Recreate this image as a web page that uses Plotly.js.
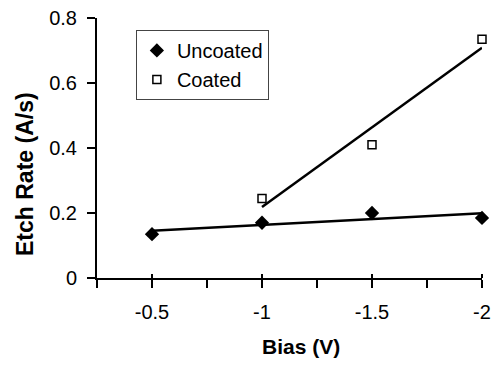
<!DOCTYPE html>
<html>
<head>
<meta charset="utf-8">
<script src="https://cdn.plot.ly/plotly-3.0.1.min.js"></script>
<style>html,body{margin:0;padding:0;background:#fff;}#chart{width:494px;height:366px;}</style>
</head>
<body>
<div id="chart"></div>
<script>
const biasUncoated = [-0.5, -1, -1.5, -2];
const rateUncoated = [0.135, 0.17, 0.2, 0.185];
const biasCoated = [-1, -1.5, -2];
const rateCoated = [0.245, 0.41, 0.735];
const xTickVals = [-0.25, -0.5, -0.75, -1, -1.25, -1.5, -1.75, -2];
const xTickText = ['', '-0.5', '', '-1', '', '-1.5', '', '-2'];
const yTickVals = [0, 0.2, 0.4, 0.6, 0.8];
const yTickText = ['0', '0.2', '0.4', '0.6', '0.8'];

function fit(xs, ys) {
  const n = xs.length;
  const mx = xs.reduce((a, b) => a + b, 0) / n;
  const my = ys.reduce((a, b) => a + b, 0) / n;
  let sxy = 0, sxx = 0;
  for (let i = 0; i < n; i++) { sxy += (xs[i] - mx) * (ys[i] - my); sxx += (xs[i] - mx) ** 2; }
  const m = sxy / sxx, b = my - m * mx;
  const x0 = xs[0], x1 = xs[n - 1];
  return { x: [x0, x1], y: [m * x0 + b, m * x1 + b] };
}
const fu = fit(biasUncoated, rateUncoated);
const fc = fit(biasCoated, rateCoated);

const font = { family: 'Liberation Sans, Arial, sans-serif', color: '#000' };

const data = [
  { x: fu.x, y: fu.y, mode: 'lines', line: { color: '#000', width: 2.5 }, showlegend: false, hoverinfo: 'skip', cliponaxis: false },
  { x: fc.x, y: fc.y, mode: 'lines', line: { color: '#000', width: 2.5 }, showlegend: false, hoverinfo: 'skip', cliponaxis: false },
  { x: biasUncoated, y: rateUncoated, name: 'Uncoated', mode: 'markers', type: 'scatter', cliponaxis: false,
    marker: { symbol: 'diamond', size: 11, color: '#000' } },
  { x: biasCoated, y: rateCoated, name: 'Coated', mode: 'markers', type: 'scatter', cliponaxis: false,
    marker: { symbol: 'square-open', size: 8, color: '#000', line: { width: 1.5, color: '#000' } } }
];

const layout = {
  width: 494, height: 366,
  margin: { l: 97, r: 12, t: 18, b: 88 },
  paper_bgcolor: '#fff', plot_bgcolor: '#fff',
  font: Object.assign({ size: 20 }, font),
  showlegend: true,
  legend: {
    x: 0.101, y: 0.954, xanchor: 'left', yanchor: 'top',
    bordercolor: '#444', borderwidth: 1, bgcolor: '#fff',
    font: Object.assign({ size: 20 }, font), tracegroupgap: 0
  },
  xaxis: {
    range: [-0.25, -2], autorange: false,
    tickmode: 'array', tickvals: xTickVals, ticktext: xTickText,
    ticks: 'outside', ticklen: 8, tickwidth: 2, tickcolor: '#000',
    minor: { tickmode: 'array', tickvals: [-0.5, -1, -1.5, -2], ticks: 'inside', ticklen: 4, tickwidth: 2, tickcolor: '#000' },
    showline: true, linecolor: '#000', linewidth: 2,
    showgrid: false, zeroline: false,
    tickfont: Object.assign({ size: 20 }, font),
    ticklabelstandoff: 7
  },
  yaxis: {
    range: [0, 0.8], autorange: false,
    tickmode: 'array', tickvals: yTickVals, ticktext: yTickText,
    ticks: 'outside', ticklen: 8, tickwidth: 2, tickcolor: '#000',
    showline: true, linecolor: '#000', linewidth: 2,
    showgrid: false, zeroline: false,
    tickfont: Object.assign({ size: 20 }, font),
    ticklabelstandoff: 6
  },
  annotations: [
    { text: '<b>Bias (V)</b>', xref: 'paper', yref: 'paper', x: 0.53, y: -0.265,
      xanchor: 'center', yanchor: 'middle', showarrow: false, font: Object.assign({ size: 21 }, font) },
    { text: '<b>Etch Rate (A/s)</b>', xref: 'paper', yref: 'paper', x: -0.187, y: 0.4,
      xanchor: 'center', yanchor: 'middle', textangle: -90, showarrow: false, font: Object.assign({ size: 23 }, font) }
  ]
};

Plotly.newPlot('chart', data, layout, { displayModeBar: false, staticPlot: true });
</script>
</body>
</html>
